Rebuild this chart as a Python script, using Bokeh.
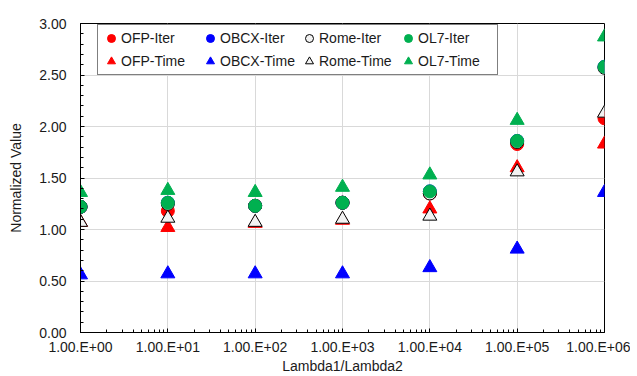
from bokeh.plotting import figure
from bokeh.models import (Legend, LegendItem, FixedTicker, SingleIntervalTicker,
                          NumeralTickFormatter, Range1d)
from bokeh.embed import file_html
from bokeh.resources import INLINE

# ---- data ----
x_vals = [1e0, 1e1, 1e2, 1e3, 1e4, 1e5, 1e6]
x_tick_labels = ["1.00.E+00", "1.00.E+01", "1.00.E+02", "1.00.E+03",
                 "1.00.E+04", "1.00.E+05", "1.00.E+06"]
ofp_iter = [1.22, 1.18, 1.23, 1.26, 1.35, 1.83, 2.08]
obcx_iter = [1.22, 1.26, 1.23, 1.26, 1.37, 1.86, 2.58]
rome_iter = [1.22, 1.25, 1.23, 1.26, 1.35, 1.85, 2.57]
ol7_iter = [1.22, 1.26, 1.23, 1.26, 1.37, 1.86, 2.58]
ofp_time = [1.07, 1.02, 1.06, 1.09, 1.20, 1.60, 1.83]
obcx_time = [0.56, 0.57, 0.57, 0.57, 0.63, 0.81, 1.36]
rome_time = [1.07, 1.11, 1.07, 1.10, 1.13, 1.56, 2.13]
ol7_time = [1.36, 1.38, 1.36, 1.41, 1.53, 2.06, 2.87]

FONT = "Liberation Sans"
TXT = "#1a1a1a"

p = figure(width=630, height=376, x_axis_type="log", output_backend="svg",
           toolbar_location=None, x_range=Range1d(1, 1e6), y_range=Range1d(0, 3),
           min_border_left=80, min_border_right=26, min_border_top=23,
           min_border_bottom=43)
p.background_fill_color = "white"
p.border_fill_color = "white"
p.outline_line_color = "black"
p.outline_line_width = 1

# axes
p.xaxis.ticker = FixedTicker(ticks=x_vals,
                             minor_ticks=[m * d for d in x_vals[:-1] for m in range(2, 10)])
p.xaxis.major_label_overrides = {v: l for v, l in zip(x_vals, x_tick_labels)}
p.yaxis.ticker = SingleIntervalTicker(interval=0.5, num_minor_ticks=5)
p.yaxis.formatter = NumeralTickFormatter(format="0.00")
for ax in (p.xaxis, p.yaxis):
    ax.axis_line_color = "black"
    ax.axis_line_width = 1
    ax.major_tick_in = 4
    ax.major_tick_out = 0
    ax.minor_tick_in = 3
    ax.minor_tick_out = 0
    ax.major_tick_line_color = "black"
    ax.minor_tick_line_color = "black"
    ax.major_label_text_font = FONT
    ax.major_label_text_font_size = "14px"
    ax.major_label_text_color = TXT
    ax.axis_label_text_font = FONT
    ax.axis_label_text_font_size = "14px"
    ax.axis_label_text_font_style = "normal"
    ax.axis_label_text_color = TXT
p.xaxis.major_label_standoff = 6
p.yaxis.major_label_standoff = 14
p.yaxis.axis_label = "Normalized Value"
p.yaxis.axis_label_standoff = 12
p.xaxis.axis_label = "Lambda1/Lambda2"
p.xaxis.axis_label_standoff = 0

p.grid.grid_line_color = "#d9d9d9"
p.grid.grid_line_width = 1
p.xgrid.ticker = FixedTicker(ticks=x_vals)

# series, drawn in Excel series order
series = [
    ("OFP-Iter", ofp_iter, "circle", "#ff0000", "#ff0000"),
    ("OBCX-Iter", obcx_iter, "circle", "#0000ff", "#0000ff"),
    ("Rome-Iter", rome_iter, "circle", "#f2f2f2", "black"),
    ("OL7-Iter", ol7_iter, "circle", "#00b050", "#00b050"),
    ("OFP-Time", ofp_time, "triangle", "#ff0000", "#ff0000"),
    ("OBCX-Time", obcx_time, "triangle", "#0000ff", "#0000ff"),
    ("Rome-Time", rome_time, "triangle", "#f2f2f2", "black"),
    ("OL7-Time", ol7_time, "triangle", "#00b050", "#00b050"),
]
items = []
for name, ys, marker, fill, line in series:
    size = 13 if marker == "circle" else 14
    r = p.scatter(x_vals, ys, marker=marker, size=size, fill_color=fill,
                  line_color=line, line_width=1)
    items.append(LegendItem(label=name, renderers=[r]))

legend = Legend(items=items, orientation="horizontal", ncols=4,
                location=(17, 257), margin=0, padding=3, spacing=3,
                glyph_width=20, glyph_height=20, label_height=20,
                label_width=76, label_standoff=0,
                label_text_font=FONT, label_text_font_size="14px",
                label_text_color=TXT, border_line_color="black",
                border_line_width=1, background_fill_color="white",
                background_fill_alpha=1)
p.add_layout(legend, "center")

open("out.html", "w").write(file_html(p, INLINE))
